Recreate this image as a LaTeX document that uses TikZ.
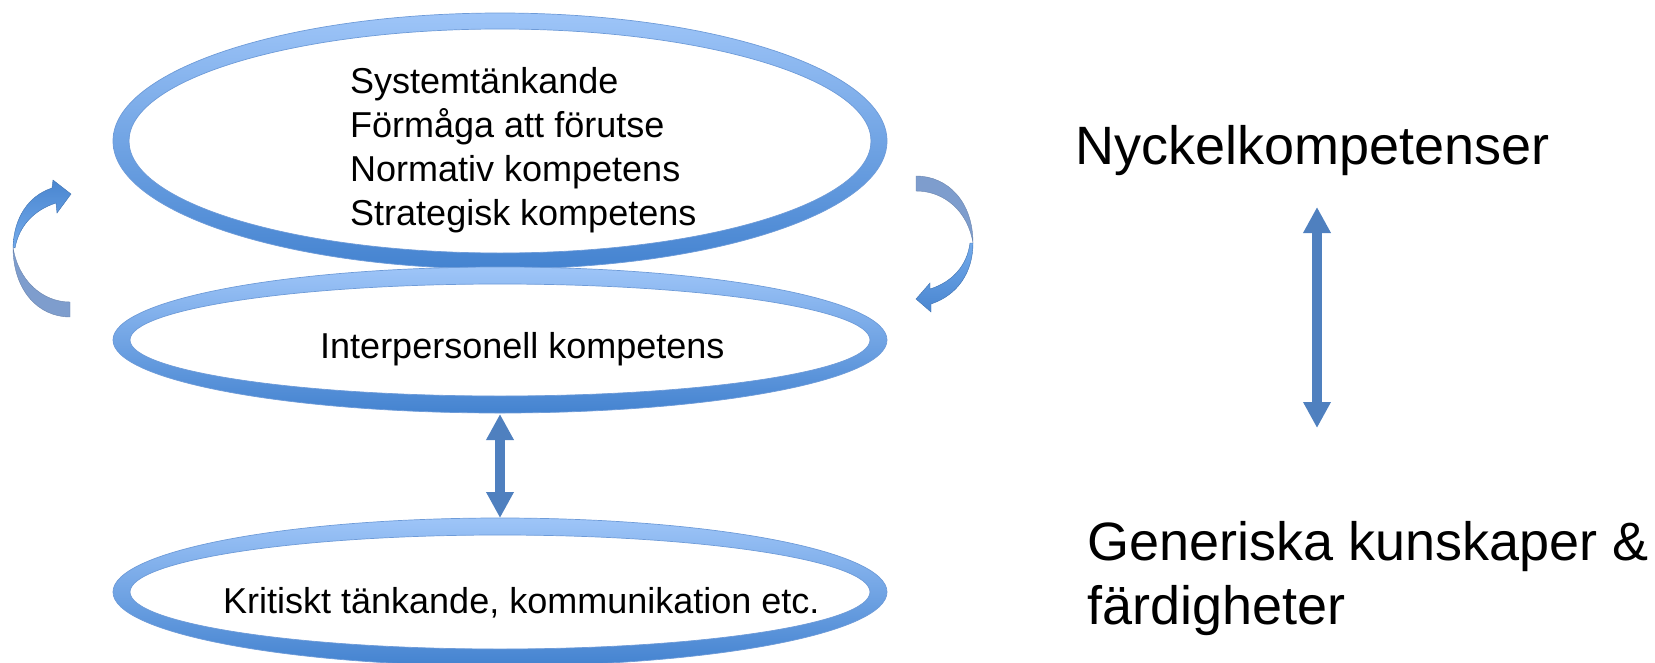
\documentclass[tikz,border=0pt]{standalone}
\usepackage{fontspec}
\setmainfont{Liberation Sans}
\usetikzlibrary{arrows.meta}
\definecolor{ringtop}{HTML}{9EC5F8}
\definecolor{ringmid}{HTML}{7AABEC}
\definecolor{ringbot}{HTML}{4483D0}
\definecolor{ringedge}{HTML}{6E9BD8}
\definecolor{arrowblue}{HTML}{4F80BF}
\definecolor{backblue}{HTML}{7E9DCD}
\definecolor{frontA}{HTML}{4A86D0}
\definecolor{frontB}{HTML}{72AAEB}
\begin{document}
\begin{tikzpicture}[x=1pt,y=-1pt,
  ring/.style={top color=ringtop, middle color=ringmid, bottom color=ringbot, even odd rule},
  ringline/.style={draw=ringedge, line width=0.7pt},
  lbl/.style={inner sep=0pt, anchor=base west, font=\fontsize{36}{44}\selectfont},
  side/.style={inner sep=0pt, anchor=base west, font=\fontsize{54}{65}\selectfont},
  dblarrow/.style={draw=arrowblue, line width=10pt, {Triangle[width=26pt,length=26pt]}-{Triangle[width=26pt,length=26pt]}},
  backpart/.style={fill=backblue, draw=backblue!85!black, line width=0.4pt},
  frontedge/.style={draw=frontA!85!black, line width=0.4pt},
]
\useasboundingbox (0,0) rectangle (1655,662);

% top ring
\shade[ring] (500,141) ellipse [x radius=387, y radius=128] (500,141) ellipse [x radius=371, y radius=112];
\draw[ringline] (500,141) ellipse [x radius=387, y radius=128];
\draw[ringline] (500,141) ellipse [x radius=371, y radius=112];
% middle ring
\shade[ring] (500,340) ellipse [x radius=387, y radius=73] (500,340) ellipse [x radius=370, y radius=56];
\draw[ringline] (500,340) ellipse [x radius=387, y radius=73];
\draw[ringline] (500,340) ellipse [x radius=370, y radius=56];
% bottom ring
\shade[ring] (500,592) ellipse [x radius=387, y radius=74] (500,592) ellipse [x radius=370, y radius=57];
\draw[ringline] (500,592) ellipse [x radius=387, y radius=74];
\draw[ringline] (500,592) ellipse [x radius=370, y radius=57];

% texts
\node[lbl] (t1) at (350,93) {Systemtänkande};
\node[lbl] (t2) at (350,137) {Förmåga att förutse};
\node[lbl] (t3) at (350,181) {Normativ kompetens};
\node[lbl] (t4) at (350,225) {Strategisk kompetens};
\node[lbl] (mid) at (320,358) {Interpersonell kompetens};
\node[lbl] (bot) at (223,613) {Kritiskt tänkande, kommunikation etc.};
\node[side] (nyk) at (1075,164) {Nyckelkompetenser};
\node[side] (gen1) at (1087,560) {Generiska kunskaper \&};
\node[side] (gen2) at (1087,624) {färdigheter};

% straight double arrows
\coordinate (m1) at (500,414);
\coordinate (m2) at (500,518);
\draw[dblarrow] (m1) -- (m2);
\coordinate (r1) at (1317,207);
\coordinate (r2) at (1317,428);
\draw[dblarrow] (r1) -- (r2);

% left curved arrow
\filldraw[backpart] (70,317) -- (70,302) .. controls (42,302) and (18,280) .. (13,247)
  .. controls (13,290) and (38,317) .. (70,317) -- cycle;
\shade[top color=frontA, bottom color=frontB] (13,247) .. controls (14,218) and (28,196) .. (52,188)
  -- (53,180) -- (71,194) -- (57,213) -- (56,203) .. controls (34,210) and (19,226) .. (15,248) -- cycle;
\draw[frontedge] (13,247) .. controls (14,218) and (28,196) .. (52,188)
  -- (53,180) -- (71,194) -- (57,213) -- (56,203) .. controls (34,210) and (19,226) .. (15,248) -- cycle;

% right curved arrow
\filldraw[backpart] (916,176) .. controls (948,176) and (973,202) .. (973,243)
  .. controls (968,212) and (945,191) .. (916,191) -- cycle;
\shade[top color=frontB, bottom color=frontA] (973,243) .. controls (973,272) and (958,295) .. (931,304)
  -- (931,312) -- (916,299) -- (930,283) -- (930,289) .. controls (952,282) and (967,266) .. (970,243) -- cycle;
\draw[frontedge] (973,243) .. controls (973,272) and (958,295) .. (931,304)
  -- (931,312) -- (916,299) -- (930,283) -- (930,289) .. controls (952,282) and (967,266) .. (970,243) -- cycle;
\end{tikzpicture}
\end{document}
